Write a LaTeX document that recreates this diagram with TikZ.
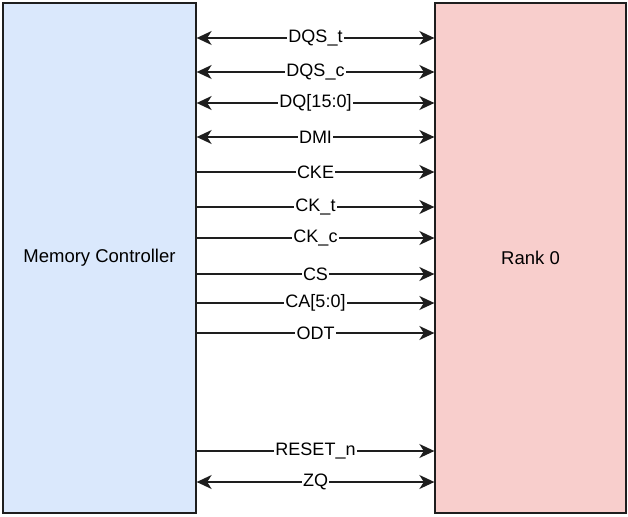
\documentclass[tikz,border=0pt]{standalone}
\usepackage{fontspec}
\setmainfont{Liberation Sans}
\usetikzlibrary{arrows.meta}
\definecolor{mcfill}{HTML}{DAE8FC}
\definecolor{rkfill}{HTML}{F8CECC}
\definecolor{edge}{HTML}{1E1E1E}
\tikzset{sigtip/.tip={Stealth[length=15pt,width=14pt,inset=4.5pt]}}
\begin{document}
\begin{tikzpicture}[x=1pt,y=-1pt,
  block/.style={draw=edge,line width=1.3pt,inner sep=0pt,
    font=\fontsize{18.5}{22}\selectfont},
  sig/.style={draw=edge,line width=1.6pt},
  uni/.style={sig,-sigtip},
  bi/.style={sig,sigtip-sigtip},
  lbl/.style={fill=white,inner sep=1.2pt,font=\fontsize{18}{20}\selectfont,midway}]
\useasboundingbox (0,0) rectangle (628,516);
% the two blocks
\node[block,fill=mcfill,minimum width=193pt,minimum height=510pt] (mc) at (99.5,258) {Memory Controller};
\node[block,fill=rkfill,minimum width=191pt,minimum height=510pt] (rank) at (530.5,258) {Rank 0};
% bidirectional data lines
\foreach \y/\t in {38/DQS\_t, 72/DQS\_c, 103/{DQ[15:0]}, 137/DMI, 482/ZQ}{
  \draw[bi] (mc.east |- 0,\y) -- node[lbl]{\t} (rank.west |- 0,\y);
}
% controller-driven lines
\foreach \y/\t in {172/CKE, 207/CK\_t, 238/CK\_c, 274/CS, 303/{CA[5:0]}, 333/ODT, 451/RESET\_n}{
  \draw[uni] (mc.east |- 0,\y) -- node[lbl]{\t} (rank.west |- 0,\y);
}
\end{tikzpicture}
\end{document}
